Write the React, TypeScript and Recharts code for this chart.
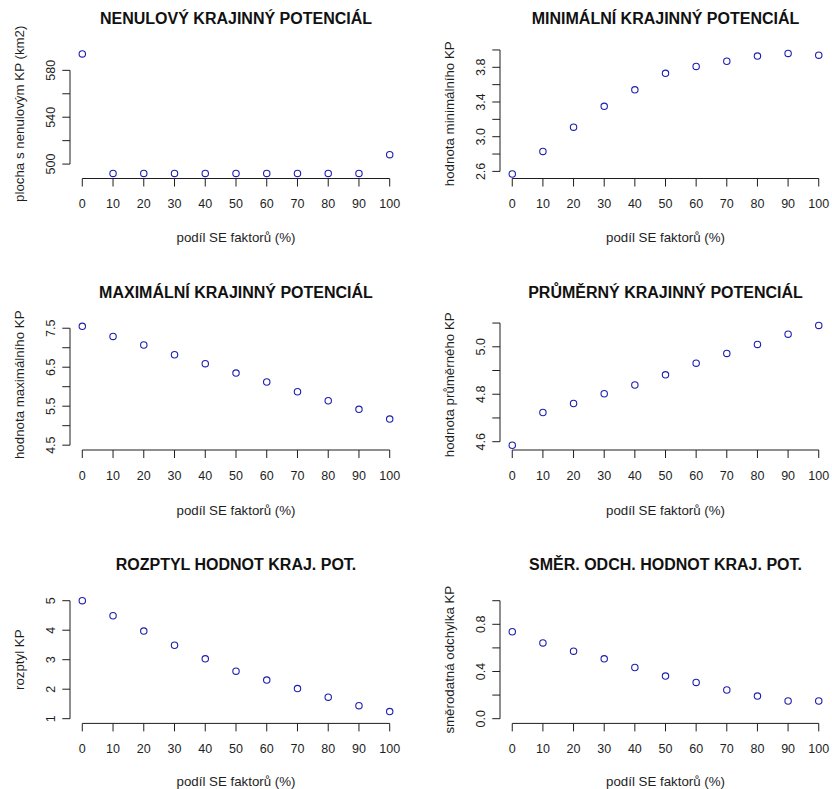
import React from 'react';
import { ScatterChart, Scatter, XAxis, YAxis, ReferenceLine } from 'recharts';

// ---------- data ----------
const podilSE = [0, 10, 20, 30, 40, 50, 60, 70, 80, 90, 100];
const xTicks = [0, 10, 20, 30, 40, 50, 60, 70, 80, 90, 100];
const xLabel = 'podíl SE faktorů (%)';

const titles = [
  'NENULOVÝ KRAJINNÝ POTENCIÁL',
  'MINIMÁLNÍ KRAJINNÝ POTENCIÁL',
  'MAXIMÁLNÍ KRAJINNÝ POTENCIÁL',
  'PRŮMĚRNÝ KRAJINNÝ POTENCIÁL',
  'ROZPTYL HODNOT KRAJ. POT.',
  'SMĚR. ODCH. HODNOT KRAJ. POT.',
];
const yLabels = [
  'plocha s nenulovým KP (km2)',
  'hodnota minimálního KP',
  'hodnota maximálního KP',
  'hodnota průměrného KP',
  'rozptyl KP',
  'směrodatná odchylka KP',
];

const nenulovy = [594, 492, 492, 492, 492, 492, 492, 492, 492, 492, 508];
const minimalni = [2.57, 2.83, 3.11, 3.35, 3.54, 3.73, 3.81, 3.87, 3.93, 3.96, 3.94];
const maximalni = [7.55, 7.29, 7.07, 6.82, 6.59, 6.35, 6.12, 5.87, 5.64, 5.42, 5.17];
const prumerny = [4.585, 4.723, 4.761, 4.802, 4.839, 4.882, 4.931, 4.972, 5.01, 5.053, 5.09];
const rozptyl = [5.0, 4.49, 3.97, 3.49, 3.03, 2.61, 2.31, 2.02, 1.73, 1.44, 1.24];
const smerOdch = [0.737, 0.642, 0.572, 0.507, 0.434, 0.361, 0.307, 0.243, 0.192, 0.15, 0.15];

const yTicks1 = [500, 520, 540, 560, 580];
const yTickLabels1 = [500, 540, 580];
const yTicks2 = [2.6, 2.8, 3.0, 3.2, 3.4, 3.6, 3.8, 4.0];
const yTickLabels2 = [2.6, 3.0, 3.4, 3.8];
const yTicks3 = [4.5, 5.0, 5.5, 6.0, 6.5, 7.0, 7.5];
const yTickLabels3 = [4.5, 5.5, 6.5, 7.5];
const yTicks4 = [4.6, 4.7, 4.8, 4.9, 5.0, 5.1];
const yTickLabels4 = [4.6, 4.8, 5.0];
const yTicks5 = [1, 2, 3, 4, 5];
const yTickLabels5 = [1, 2, 3, 4, 5];
const yTicks6 = [0.0, 0.2, 0.4, 0.6, 0.8, 1.0];
const yTickLabels6 = [0.0, 0.4, 0.8];

const yDomains: [number, number][] = [
  [487.7, 598.2],
  [2.518, 4.011],
  [4.376, 7.724],
  [4.565, 5.115],
  [0.84, 5.16],
  [-0.04, 1.04],
];
const xDomain: [number, number] = [-4, 104];
const decimals = [0, 1, 1, 1, 0, 1];

// ---------- layout ----------
const FONT = '"Liberation Sans", Arial, Helvetica, sans-serif';
const INK = '#1e1e1e';
const POINT = '#1f1fb0';
const colLeft = [0, 416];
const colPlotLeft = [70, 84];
const colPlotRight = [402, 415];
const rowTop = [0, 272, 544];
const rowPlotTop = [49, 319.5, 596];
const rowPlotBottom = [178.5, 450, 723.4];
const rowTitleCenter = [19.2, 293, 564.5];
const rowXLabelCenter = [58.5, 60, 58];
const CHART_W = 416;
const CHART_H = 272;

const seriesList = [nenulovy, minimalni, maximalni, prumerny, rozptyl, smerOdch];
const tickList = [yTicks1, yTicks2, yTicks3, yTicks4, yTicks5, yTicks6];
const labelList = [yTickLabels1, yTickLabels2, yTickLabels3, yTickLabels4, yTickLabels5, yTickLabels6];

const near = (a: number, b: number) => Math.abs(a - b) < 1e-9;

const XTick = (props: any) => {
  const { x, y, payload } = props;
  return (
    <g>
      <line x1={x} x2={x} y1={y} y2={y + 8} stroke={INK} strokeWidth={1} />
      <text x={x} y={y + 29.5} textAnchor="middle" fontSize={12.5} fill={INK} fontFamily={FONT}>
        {payload.value}
      </text>
    </g>
  );
};

const makeYTick = (labels: number[], dec: number) => (props: any) => {
  const { x, y, payload } = props;
  const v = payload.value as number;
  const show = labels.some((l) => near(l, v));
  const tx = x - 15;
  return (
    <g>
      <line x1={x - 7.7} x2={x} y1={y} y2={y} stroke={INK} strokeWidth={1} />
      {show && (
        <text
          x={tx}
          y={y}
          transform={`rotate(-90 ${tx} ${y})`}
          textAnchor="middle"
          fontSize={12.5}
          fill={INK}
          fontFamily={FONT}
        >
          {v.toFixed(dec)}
        </text>
      )}
    </g>
  );
};

const Circle = (props: any) => {
  const { cx, cy } = props;
  if (cx == null || cy == null) return null;
  return <circle cx={cx} cy={cy} r={3.2} fill="none" stroke={POINT} strokeWidth={1.1} />;
};

const Panel = ({ idx }: { idx: number }) => {
  const col = idx % 2;
  const row = Math.floor(idx / 2);
  const plotLeft = colPlotLeft[col];
  const plotW = colPlotRight[col] - plotLeft;
  const top = rowPlotTop[row] - rowTop[row];
  const plotH = rowPlotBottom[row] - rowPlotTop[row];
  const xAxisH = CHART_H - top - plotH;
  const values = seriesList[idx];
  const data = podilSE.map((x, i) => ({ x, y: values[i] }));
  const ticks = tickList[idx];
  const dom = yDomains[idx];
  const xlOffset = rowXLabelCenter[row];

  const xLabelContent = (p: any) => {
    const vb = p.viewBox || {};
    const cx = vb.x + vb.width / 2;
    return (
      <text x={cx} y={vb.y + xlOffset + 4.5} textAnchor="middle" fontSize={13.3} fill={INK} fontFamily={FONT}>
        {xLabel}
      </text>
    );
  };
  const yLabelContent = (p: any) => {
    const vb = p.viewBox || {};
    const bx = vb.x + vb.width - 46;
    const cy = vb.y + vb.height / 2;
    return (
      <text
        x={bx}
        y={cy}
        transform={`rotate(-90 ${bx} ${cy})`}
        textAnchor="middle"
        fontSize={13.3}
        fill={INK}
        fontFamily={FONT}
      >
        {yLabels[idx]}
      </text>
    );
  };

  return (
    <div style={{ position: 'absolute', left: colLeft[col], top: rowTop[row], width: CHART_W, height: CHART_H }}>
      <ScatterChart
        width={CHART_W}
        height={CHART_H}
        margin={{ top, right: CHART_W - plotLeft - plotW, bottom: 0, left: 0 }}
      >
        <XAxis
          type="number"
          dataKey="x"
          domain={xDomain}
          ticks={xTicks}
          interval={0}
          allowDataOverflow
          axisLine={false}
          tickLine={false}
          tickSize={0}
          tickMargin={0}
          height={xAxisH}
          tick={XTick}
          label={xLabelContent}
        />
        <YAxis
          type="number"
          dataKey="y"
          domain={dom}
          ticks={ticks}
          interval={0}
          allowDataOverflow
          axisLine={false}
          tickLine={false}
          tickSize={0}
          tickMargin={0}
          width={plotLeft}
          tick={makeYTick(labelList[idx], decimals[idx])}
          label={yLabelContent}
        />
        <ReferenceLine
          segment={[{ x: xTicks[0], y: dom[0] }, { x: xTicks[xTicks.length - 1], y: dom[0] }]}
          stroke={INK}
          strokeWidth={1}
          ifOverflow="visible"
        />
        <ReferenceLine
          segment={[{ x: xDomain[0], y: ticks[0] }, { x: xDomain[0], y: ticks[ticks.length - 1] }]}
          stroke={INK}
          strokeWidth={1}
          ifOverflow="visible"
        />
        <Scatter data={data} shape={Circle} isAnimationActive={false} />
      </ScatterChart>
      <div
        style={{
          position: 'absolute',
          left: plotLeft,
          width: plotW,
          top: rowTitleCenter[row] - rowTop[row] - 0.488 * 16,
          textAlign: 'center',
          fontSize: 16,
          lineHeight: '16px',
          fontWeight: 'bold',
          fontFamily: FONT,
          color: '#111',
          whiteSpace: 'nowrap',
        }}
      >
        {titles[idx]}
      </div>
    </div>
  );
}

export default function App() {
  return (
    <div
      style={{
        position: 'absolute',
        left: 0,
        top: 0,
        width: 832,
        height: 789,
        overflow: 'hidden',
        background: '#ffffff',
        fontFamily: FONT,
      }}
    >
      {[0, 1, 2, 3, 4, 5].map((i) => (
        <Panel key={i} idx={i} />
      ))}
    </div>
  );
}
